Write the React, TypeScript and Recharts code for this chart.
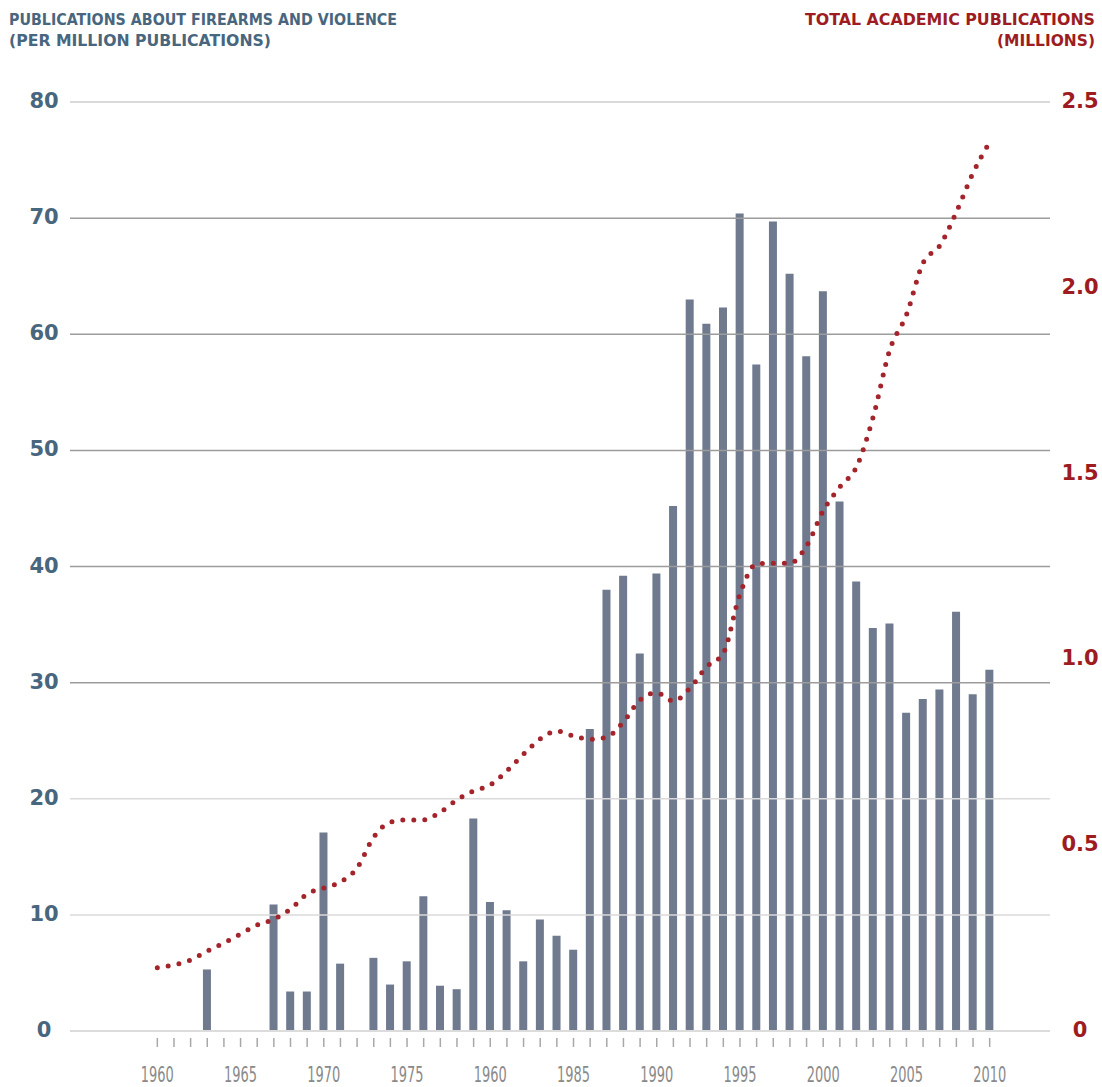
import { ComposedChart, Bar, Line, XAxis, YAxis, ReferenceLine } from "recharts";

const years = [
  1960, 1961, 1962, 1963, 1964, 1965, 1966, 1967, 1968, 1969,
  1970, 1971, 1972, 1973, 1974, 1975, 1976, 1977, 1978, 1979,
  1980, 1981, 1982, 1983, 1984, 1985, 1986, 1987, 1988, 1989,
  1990, 1991, 1992, 1993, 1994, 1995, 1996, 1997, 1998, 1999,
  2000, 2001, 2002, 2003, 2004, 2005, 2006, 2007, 2008, 2009, 2010,
];

// publications about firearms and violence, per million publications
const perMillion = [
  null, null, null, 5.3, null, null, null, 10.9, 3.4, 3.4,
  17.1, 5.8, null, 6.3, 4.0, 6.0, 11.6, 3.9, 3.6, 18.3,
  11.1, 10.4, 6.0, 9.6, 8.2, 7.0, 26.0, 38.0, 39.2, 32.5,
  39.4, 45.2, 63.0, 60.9, 62.3, 70.4, 57.4, 69.7, 65.2, 58.1,
  63.7, 45.6, 38.7, 34.7, 35.1, 27.4, 28.6, 29.4, 36.1, 29.0, 31.1,
];

// total academic publications, millions
const totalMillions = [
  0.17, 0.178, 0.191, 0.215, 0.237, 0.261, 0.285, 0.301, 0.328, 0.369,
  0.385, 0.401, 0.439, 0.522, 0.562, 0.568, 0.568, 0.589, 0.622, 0.646,
  0.662, 0.7, 0.745, 0.786, 0.807, 0.794, 0.785, 0.791, 0.832, 0.891,
  0.91, 0.888, 0.923, 0.98, 1.017, 1.176, 1.257, 1.259, 1.259, 1.305,
  1.4, 1.464, 1.518, 1.652, 1.833, 1.927, 2.067, 2.113, 2.204, 2.309, 2.392,
];

const labelYears = [1960, 1965, 1970, 1975, 1980, 1985, 1990, 1995, 2000, 2005, 2010];
// labels as printed in the original (the 1980 tick reads "1960")
const xLabels = ["1960", "1965", "1970", "1975", "1960", "1985", "1990", "1995", "2000", "2005", "2010"];

const leftTicks = [0, 10, 20, 30, 40, 50, 60, 70, 80];
const rightTicks = [0, 0.5, 1, 1.5, 2, 2.5];
const rightLabels = ["0", "0.5", "1.0", "1.5", "2.0", "2.5"];

const rows = years.map((year, i) => ({
  year,
  perMillion: perMillion[i],
  totalMillions: totalMillions[i],
}));

const BLUE = "#48667e";
const RED = "#9d1c22";

const YearTick = (props: any) => {
  const { x, y, payload } = props;
  const idx = labelYears.indexOf(payload.value);
  return (
    <g>
      <line x1={x} x2={x} y1={y + 7} y2={y + 16} stroke="#a8a8a8" strokeWidth={1.5} />
      {idx >= 0 && (
        <text
          x={x}
          y={y + 51}
          textAnchor="middle"
          fill="#8a8a8a"
          fontSize={22}
          fontFamily="'Liberation Sans Narrow', 'DejaVu Sans Condensed', sans-serif"
          textLength={33}
          lengthAdjust="spacingAndGlyphs"
        >
          {xLabels[idx]}
        </text>
      )}
    </g>
  );
};

const LeftTick = (props: any) => {
  const { x, y, payload } = props;
  return (
    <text
      x={x - 26}
      y={y + 6}
      textAnchor="middle"
      fill={BLUE}
      fontSize={21}
      fontWeight="bold"
      fontFamily="'DejaVu Sans', sans-serif"
    >
      {payload.value}
    </text>
  );
};

const RightTick = (props: any) => {
  const { x, y, payload } = props;
  const idx = rightTicks.indexOf(payload.value);
  return (
    <text
      x={x + 30}
      y={y + 6}
      textAnchor="middle"
      fill={RED}
      fontSize={21}
      fontWeight="bold"
      fontFamily="'DejaVu Sans', sans-serif"
    >
      {rightLabels[idx]}
    </text>
  );
};

const titleFont = "'DejaVu Sans', sans-serif";

export default function App() {
  return (
    <div style={{ position: "absolute", left: 0, top: 0, width: 1102, height: 1087, background: "#fff" }}>
      <svg width={1102} height={60} style={{ position: "absolute", left: 0, top: 0 }}>
        <text x={9} y={25} fill={BLUE} fontSize={16} fontWeight="bold" fontFamily={titleFont} textLength={388} lengthAdjust="spacingAndGlyphs">
          PUBLICATIONS ABOUT FIREARMS AND VIOLENCE
        </text>
        <text x={9} y={46} fill={BLUE} fontSize={16} fontWeight="bold" fontFamily={titleFont} textLength={262} lengthAdjust="spacingAndGlyphs">
          (PER MILLION PUBLICATIONS)
        </text>
        <text x={805} y={25} fill={RED} fontSize={16} fontWeight="bold" fontFamily={titleFont} textLength={290} lengthAdjust="spacingAndGlyphs">
          TOTAL ACADEMIC PUBLICATIONS
        </text>
        <text x={997} y={46} fill={RED} fontSize={16} fontWeight="bold" fontFamily={titleFont} textLength={98} lengthAdjust="spacingAndGlyphs">
          (MILLIONS)
        </text>
      </svg>
      <div style={{ position: "absolute", left: 0, top: 0 }}>
        <ComposedChart width={1102} height={1087} data={rows} margin={{ top: 102, right: 0, bottom: 0, left: 0 }}>
          <XAxis
            dataKey="year"
            xAxisId={0}
            height={56}
            interval={0}
            padding={{ left: 79, right: 52 }}
            tickSize={0}
            tickMargin={0}
            axisLine={{ stroke: "#dcdcdc", strokeWidth: 2 }}
            tickLine={false}
            tick={<YearTick />}
          />
          <YAxis
            yAxisId="left"
            width={70}
            domain={[0, 80]}
            ticks={leftTicks}
            axisLine={false}
            tickLine={false}
            tickSize={0}
            tickMargin={0}
            tick={<LeftTick />}
          />
          <YAxis
            yAxisId="right"
            orientation="right"
            width={52}
            domain={[0, 2.5]}
            ticks={rightTicks}
            axisLine={false}
            tickLine={false}
            tickSize={0}
            tickMargin={0}
            tick={<RightTick />}
          />
          {leftTicks.slice(1).map((v) => (
            <ReferenceLine
              key={v}
              yAxisId="left"
              xAxisId={0}
              y={v}
              stroke={v >= 30 && v <= 70 ? "#9c9c9c" : "#dadada"}
              strokeWidth={v === 80 ? 2 : 1.5}
            />
          ))}
          <Bar
            dataKey="perMillion"
            yAxisId="left"
            xAxisId={0}
            fill="#6f7a8f"
            barSize={8}
            isAnimationActive={false}
          />
          <Line
            dataKey="totalMillions"
            yAxisId="right"
            xAxisId={0}
            type="monotone"
            stroke="#a3242b"
            strokeWidth={5}
            strokeDasharray="0 11"
            strokeLinecap="round"
            dot={false}
            activeDot={false}
            isAnimationActive={false}
          />
        </ComposedChart>
      </div>
    </div>
  );
}
